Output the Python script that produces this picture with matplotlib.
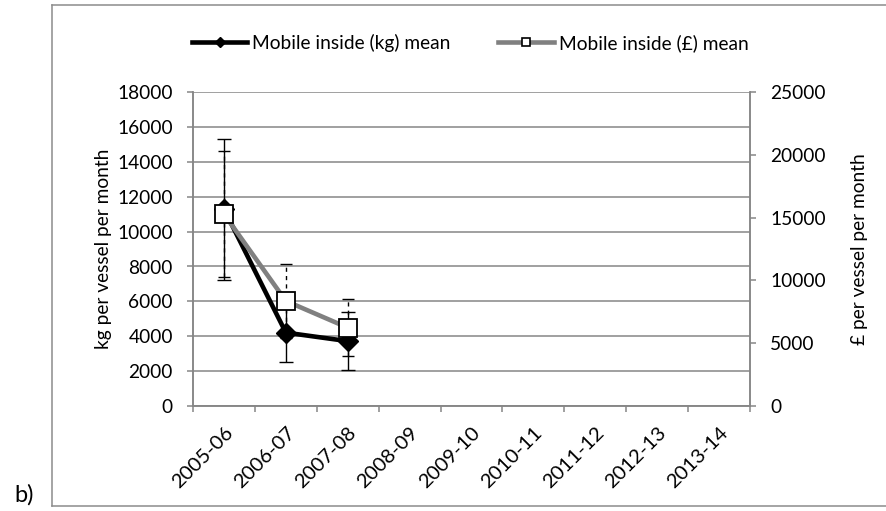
import matplotlib
matplotlib.use("Agg")
import matplotlib.pyplot as plt
from matplotlib.lines import Line2D
import numpy as np

categories = ['2005-06', '2006-07', '2007-08', '2008-09', '2009-10',
              '2010-11', '2011-12', '2012-13', '2013-14']
kg_mean = [11300, 4200, 3710]
kg_err = [4050, 1680, 1660]
gbp_mean = [15300, 8360, 6230]
gbp_err = [5050, 2950, 2290]
kg_label = 'Mobile inside (kg) mean'
gbp_label = 'Mobile inside (£) mean'

plt.rcParams['font.family'] = ['Lato', 'DejaVu Sans']
FS = 13.8
GRID = '#868686'

W, H = 886, 511
fig = plt.figure(figsize=(W / 100, H / 100), dpi=100)
ax = fig.add_axes([193 / W, 1 - 405.7 / H, (750 - 193) / W, (405.7 - 92.5) / H])
ax2 = ax.twinx()

n = len(categories)
x = np.arange(n)
xd = x[:len(kg_mean)]

ax.set_xlim(-0.5, n - 0.5)
ax.set_ylim(0, 18000)
ax2.set_ylim(0, 25000)
ax.set_yticks(np.arange(0, 18001, 2000))
ax2.set_yticks(np.arange(0, 25001, 5000))
ax.yaxis.grid(True, color=GRID, lw=1.1)
ax.set_axisbelow(True)

for a in (ax, ax2):
    for s in a.spines.values():
        s.set_color(GRID)
        s.set_linewidth(1.1)
    a.spines['top'].set_visible(False)

# major ticks at category boundaries, labels at centres
ax.set_xticks(np.arange(n + 1) - 0.5)
ax.set_xticklabels([])
ax.set_xticks(x, minor=True)
ax.set_xticklabels(categories, minor=True, rotation=45, ha='right', va='top',
                   rotation_mode='anchor', fontsize=FS + 0.8)
ax.tick_params(axis='x', which='major', length=4.5, width=1.1, color=GRID)
ax.tick_params(axis='x', which='minor', length=0, pad=13)
ax.tick_params(axis='y', length=4.5, width=1.1, color=GRID, labelsize=FS, pad=10)
ax2.tick_params(axis='y', length=4.5, width=1.1, color=GRID, labelsize=FS, pad=10)

ax.set_ylabel('kg per vessel per month', fontsize=FS, labelpad=4)
ax2.set_ylabel('£ per vessel per month', fontsize=FS, labelpad=18)

# kg series
ax.errorbar(xd, kg_mean, yerr=kg_err, fmt='none', ecolor='black', elinewidth=1.0,
            capsize=5, capthick=1.0, zorder=3)
ax.plot(xd, kg_mean, color='black', lw=3.3, marker='D', markersize=10,
        markerfacecolor='black', markeredgecolor='black', zorder=4)

# £ series (secondary axis, drawn on top)
eb = ax2.errorbar(xd, gbp_mean, yerr=gbp_err, fmt='none', ecolor='black',
                  elinewidth=1.0, capsize=4, capthick=1.0, zorder=3)
for lc in eb[2]:
    lc.set_linestyle((0, (3, 3)))
ax2.plot(xd, gbp_mean, color='#808080', lw=3.3, marker='s', markersize=12.5,
         markerfacecolor='white', markeredgecolor='black', markeredgewidth=1.3,
         zorder=4)

handles = [
    Line2D([], [], color='black', lw=3.3, marker='D', markersize=5,
           markerfacecolor='black', markeredgecolor='black'),
    Line2D([], [], color='#808080', lw=3.3, marker='s', markersize=6,
           markerfacecolor='white', markeredgecolor='black', markeredgewidth=1.2),
]
fig.legend(handles, [kg_label, gbp_label], loc='center left',
           bbox_to_anchor=(192 / W, 1 - 42.7 / H), ncol=2, frameon=False,
           fontsize=FS, handlelength=2.88, handletextpad=0.26,
           columnspacing=2.5, borderpad=0, borderaxespad=0)

# outer frame (left, top, bottom visible)
fx0, fy_top, fy_bot = 52 / W, 1 - 5 / H, 1 - 505.7 / H
frame_kw = dict(color='#8c8c8c', lw=1.1, transform=fig.transFigure)
fig.add_artist(Line2D([fx0, fx0], [fy_bot, fy_top], **frame_kw))
fig.add_artist(Line2D([fx0, 1.0], [fy_top, fy_top], **frame_kw))
fig.add_artist(Line2D([fx0, 1.0], [fy_bot, fy_bot], **frame_kw))

fig.text(14 / W, 1 - 495 / H, 'b)', fontsize=17, ha='left', va='center')

fig.savefig('out.png', dpi=100)
